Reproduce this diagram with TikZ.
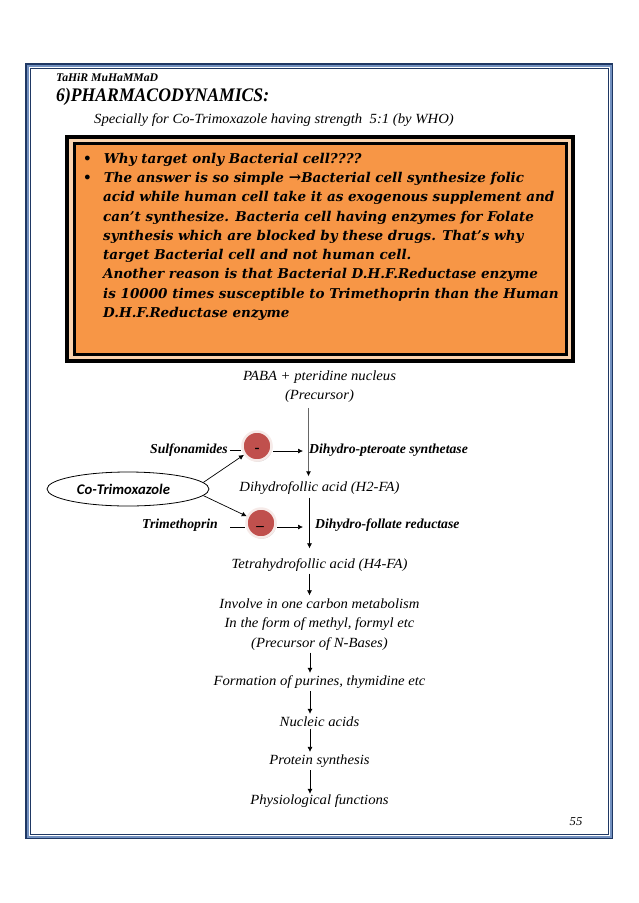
\documentclass[tikz,border=0pt]{standalone}
\usepackage{fontspec}
\setmainfont{Liberation Serif}
\setsansfont{Carlito}
\newfontfamily\boxfont{DejaVu Serif}
\newfontfamily\flowfont[FakeStretch=1.05]{Liberation Serif}
\newfontfamily\titlefont[FakeStretch=.92]{Liberation Serif}
\usetikzlibrary{shapes, arrows, arrows.meta, positioning, shadows}
\definecolor{navyline}{HTML}{1F3864}
\definecolor{steelline}{HTML}{7391C0}
\definecolor{boxorange}{HTML}{F79646}
\definecolor{boxcream}{HTML}{FAD3AE}
\definecolor{inhibitred}{HTML}{C0504D}
\definecolor{inhibitring}{HTML}{F6EAE8}
\tikzstyle{outerframe} = [draw=black, line width=4pt, fill=boxcream, rectangle, inner sep=0pt, minimum width=506pt, minimum height=224pt]
\tikzstyle{orangebox} = [draw=black, line width=3pt, fill=boxorange, rectangle, inner sep=0pt, minimum width=492pt, minimum height=211pt]
\tikzstyle{flowtext} = [inner sep=0pt, align=center, font=\flowfont\fontsize{14}{19.6}\selectfont\itshape]
\tikzstyle{druglabel} = [inner sep=0pt, font=\fontsize{13.7}{16}\selectfont\bfseries\itshape]
\tikzstyle{inhibitor} = [circle, draw=inhibitring, line width=2.5pt, fill=inhibitred, minimum size=29pt, inner sep=0pt, drop shadow={shadow xshift=.8pt, shadow yshift=-1.2pt, opacity=.4}]
\tikzstyle{inhibitsign} = [inner sep=0pt, font=\fontsize{15}{15}\selectfont\bfseries]
\tikzstyle{flowarrow} = [-{Latex[length=5pt,width=5pt]}, line width=.7pt]
\tikzstyle{tiedline} = [line width=.7pt]
\newcommand{\bigtext}{\boxfont\fontsize{13.5}{19.25}\selectfont\bfseries\itshape}
\begin{document}
\begin{tikzpicture}[x=1pt, y=-1pt]
	\useasboundingbox (0,0) rectangle (638,903);
	% page border
	\draw[navyline, line width=1.1pt] (26,64) rectangle (612.5,838.5);
	\draw[steelline, line width=2pt] (28,66) rectangle (610.5,836.5);
	\draw[navyline, line width=1pt] (30,68.5) rectangle (608,834);
	% header
	\node[anchor=west, inner sep=0pt, font=\fontsize{11.7}{14}\selectfont\bfseries\itshape] (author) at (56,78) {TaHiR MuHaMMaD};
	\node[anchor=west, inner sep=0pt, font=\titlefont\fontsize{19.2}{22}\selectfont\bfseries\itshape] (title) at (56,97) {6)PHARMACODYNAMICS:};
	\node[anchor=west, inner sep=0pt, font=\flowfont\fontsize{14}{16}\selectfont\itshape] (subtitle) at (94,120) {Specially for Co-Trimoxazole having strength\ \ 5:1 (by WHO)};
	% orange box
	\node[outerframe] (frame) at (320,249) {};
	\node[orangebox] (box) at (frame.center) {};
	\node[anchor=north west, inner sep=0pt] (boxtext) at (83,153) {%
		\begin{minipage}{485pt}
			\bigtext
			\begin{list}{\textbullet}{\setlength{\leftmargin}{20pt}\setlength{\labelwidth}{8pt}\setlength{\labelsep}{12pt}\setlength{\itemsep}{0pt}\setlength{\parsep}{0pt}\setlength{\topsep}{0pt}\setlength{\partopsep}{0pt}}
				\item Why target only Bacterial cell????
				\item The answer is so simple {\fontsize{15}{12}\selectfont→}Bacterial cell synthesize folic\\
				acid while human cell take it as exogenous supplement and\\
				can’t synthesize. Bacteria cell having enzymes for Folate\\
				synthesis which are blocked by these drugs. That’s why\\
				target Bacterial cell and not human cell.\\
				Another reason is that Bacterial D.H.F.Reductase enzyme\\
				is 10000 times susceptible to Trimethoprin than the Human\\
				D.H.F.Reductase enzyme
			\end{list}
		\end{minipage}};
	% pathway
	\node[flowtext] (paba) at (319.5,386.5) {PABA + pteridine nucleus\\(Precursor)};
	\node[flowtext] (h2fa) at (319.5,488) {Dihydrofollic acid (H2-FA)};
	\node[flowtext] (h4fa) at (319.5,565) {Tetrahydrofollic acid (H4-FA)};
	\node[flowtext] (carbon) at (319.5,624.5) {Involve in one carbon metabolism\\In the form of methyl, formyl etc\\(Precursor of N-Bases)};
	\node[flowtext] (purines) at (319.5,682.5) {Formation of purines, thymidine etc};
	\node[flowtext] (nucleic) at (319.5,722) {Nucleic acids};
	\node[flowtext] (protein) at (319.5,761.5) {Protein synthesis};
	\node[flowtext] (physio) at (319.5,801.5) {Physiological functions};
	% drugs and enzymes
	\node[ellipse, draw=black, line width=.8pt, minimum width=162pt, minimum height=34pt, inner sep=0pt, font=\fontsize{14.7}{17}\selectfont\sffamily\bfseries\itshape] (cotri) at (128,489) {Co-Trimoxazole\hspace{9pt}\mbox{}};
	\node[inhibitor] (minusa) at (257,446) {};
	\node[inhibitor] (minusb) at (261,523) {};
	\node[inhibitsign] (signa) at (257,450) {-};
	\node[inhibitsign] (signb) at (260,527) {\_};
	\node[druglabel, anchor=east] (sulfa) at (228,450.5) {Sulfonamides};
	\node[druglabel, anchor=east] (trimeth) at (218,525.5) {Trimethoprin};
	\node[druglabel, anchor=west] (pteroate) at (309,450.5) {Dihydro-pteroate synthetase};
	\node[druglabel, anchor=west] (reductase) at (315,525.5) {Dihydro-follate reductase};
	% connectors
	\draw[-{Latex[length=5pt,width=5pt,black]}, gray!80!black, line width=1.1pt, shorten >=5pt] ([xshift=-11pt]paba.south) ++(0,5) -- ([xshift=-11pt]h2fa.north);
	\draw[flowarrow, shorten >=10pt] ([xshift=-10pt]h2fa.south) ++(0,3) -- ([xshift=-10pt]h4fa.north);
	\draw[flowarrow, shorten <=2pt, shorten >=3pt] ([xshift=-10pt]h4fa.south) -- ([xshift=-10pt]carbon.north);
	\draw[flowarrow, shorten <=2pt, shorten >=3pt] ([xshift=-9.5pt]carbon.south) -- ([xshift=-9.5pt]purines.north);
	\draw[flowarrow, shorten <=2pt, shorten >=3pt] ([xshift=-9.5pt]purines.south) -- ([xshift=-9.5pt]nucleic.north);
	\draw[flowarrow, shorten <=2pt, shorten >=3pt] ([xshift=-9.5pt]nucleic.south) -- ([xshift=-9.5pt]protein.north);
	\draw[flowarrow, shorten <=2pt, shorten >=1pt] ([xshift=-9.5pt]protein.south) -- ([xshift=-9.5pt]physio.north);
	\draw[flowarrow] (cotri.5) -- (minusa);
	\draw[flowarrow] (cotri.-5) -- (minusb);
	\draw[tiedline, shorten <=2pt] (sulfa.east) -- (minusa.west |- sulfa.east);
	\draw[tiedline, shorten <=12pt] ([yshift=-1.5pt]trimeth.east) -- (minusb.west |- 0,527);
	\draw[flowarrow, shorten >=6pt] (minusa.east |- 0,451) -- ([yshift=-.5pt]pteroate.west);
	\draw[flowarrow, shorten >=12pt] (minusb.east |- 0,527) -- ([yshift=-1.5pt]reductase.west);
	% page number
	\node[inner sep=0pt, font=\flowfont\fontsize{12}{14}\selectfont\itshape] (pagenum) at (576,822) {55};
\end{tikzpicture}
\end{document}
